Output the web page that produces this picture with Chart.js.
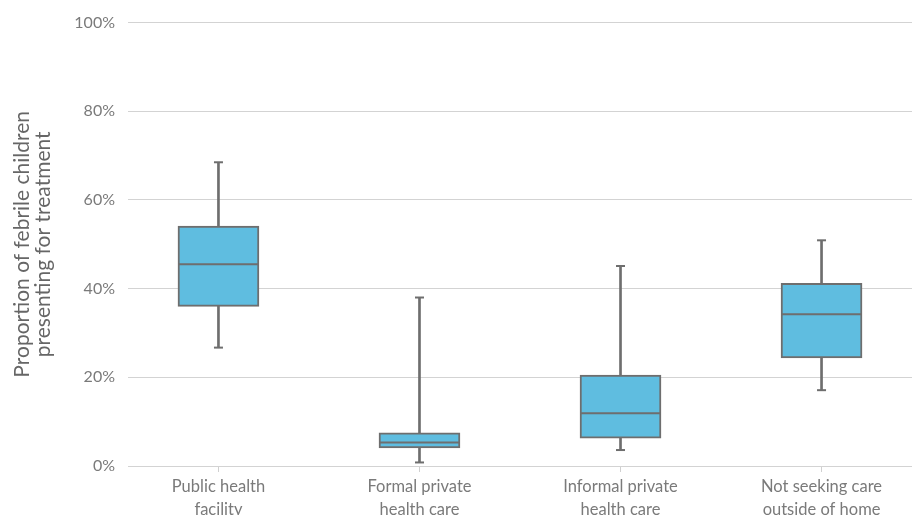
<!DOCTYPE html>
<html>
<head>
<meta charset="utf-8">
<script src="https://cdn.jsdelivr.net/npm/chart.js@4/dist/chart.umd.min.js"></script>
<style>
  html,body{margin:0;padding:0;background:#fff;overflow:hidden;}
  #wrap{width:912px;height:515px;}
</style>
</head>
<body>
<div id="wrap"><canvas id="careChart"></canvas></div>
<script>
const categories = [
  ["Public health", "facility"],
  ["Formal private", "health care"],
  ["Informal private", "health care"],
  ["Not seeking care", "outside of home"]
];
const whiskerLow  = [26.7, 0.8, 3.6, 17.1];
const quartile1   = [36.0, 4.1, 6.3, 24.4];
const medians     = [45.5, 5.3, 11.9, 34.2];
const quartile3   = [54.1, 7.5, 20.5, 41.2];
const whiskerHigh = [68.5, 38.0, 45.1, 50.9];
const yTicks = [0, 20, 40, 60, 80, 100];

const BOX = "#5fbde0";
const EDGE = "#6e6e6e";
const TEXT = "#7a7a7a";

const at = (arr) => arr.map((v, i) => ({x: i, y: v}));

Chart.defaults.font.family = "Lato, 'Open Sans', sans-serif";
Chart.defaults.color = TEXT;

const ctx = document.getElementById("careChart").getContext("2d");
new Chart(ctx, {
  type: "bar",
  data: {
    datasets: [
      // median lines across each box
      { type: "line", data: at(medians), showLine: false, pointStyle: "line",
        pointRadius: 40, pointHoverRadius: 40, pointBorderWidth: 2,
        pointBorderColor: EDGE, order: 0, clip: false },
      // whisker caps
      { type: "line", data: at(whiskerHigh).concat(at(whiskerLow)), showLine: false, pointStyle: "line",
        pointRadius: 4.5, pointHoverRadius: 4.5, pointBorderWidth: 2,
        pointBorderColor: EDGE, order: 0, clip: false },
      // interquartile boxes
      { data: quartile1.map((q, i) => ({x: i, y: [q, quartile3[i]]})),
        backgroundColor: BOX, borderColor: EDGE, borderWidth: 2, borderSkipped: false,
        barThickness: 81, grouped: false, order: 1 },
      // whisker stems
      { data: whiskerLow.map((v, i) => ({x: i, y: [v, whiskerHigh[i]]})),
        backgroundColor: EDGE, borderWidth: 0, barThickness: 2, grouped: false, order: 2 }
    ]
  },
  options: {
    responsive: true,
    maintainAspectRatio: false,
    animation: false,
    layout: { autoPadding: false, padding: { top: 21, right: 0, left: 0, bottom: 0 } },
    plugins: { legend: { display: false }, tooltip: { enabled: false } },
    scales: {
      x: {
        type: "linear",
        offset: false,
        min: -0.45,
        max: 3.45,
        afterBuildTicks: (s) => { s.ticks = categories.map((_, i) => ({value: i})); },
        afterFit: (s) => { s.height = 49; s.paddingLeft = 0; s.paddingRight = 0; },
        border: { display: false },
        grid: { offset: false, drawOnChartArea: false, drawTicks: true, tickLength: 6, color: "#d0d0d0" },
        ticks: {
          callback: (v) => categories[v] || "",
          maxRotation: 0, autoSkip: false, padding: 3,
          font: { size: 16.5, lineHeight: 1.4 }, color: TEXT
        }
      },
      y: {
        min: 0,
        max: 100,
        afterBuildTicks: (s) => { s.ticks = yTicks.map(v => ({value: v})); },
        afterFit: (s) => { s.width = 128; },
        border: { display: false },
        grid: { color: "#d3d3d3", drawTicks: false },
        ticks: { callback: (v) => v + "%", padding: 13, font: { size: 16 }, color: TEXT },
        title: {
          display: true,
          text: ["Proportion of febrile children", "presenting for treatment"],
          font: { size: 21, lineHeight: 1.0 }, color: "#666",
          padding: { top: 12, bottom: 0 }
        }
      }
    }
  }
});
</script>
</body>
</html>
